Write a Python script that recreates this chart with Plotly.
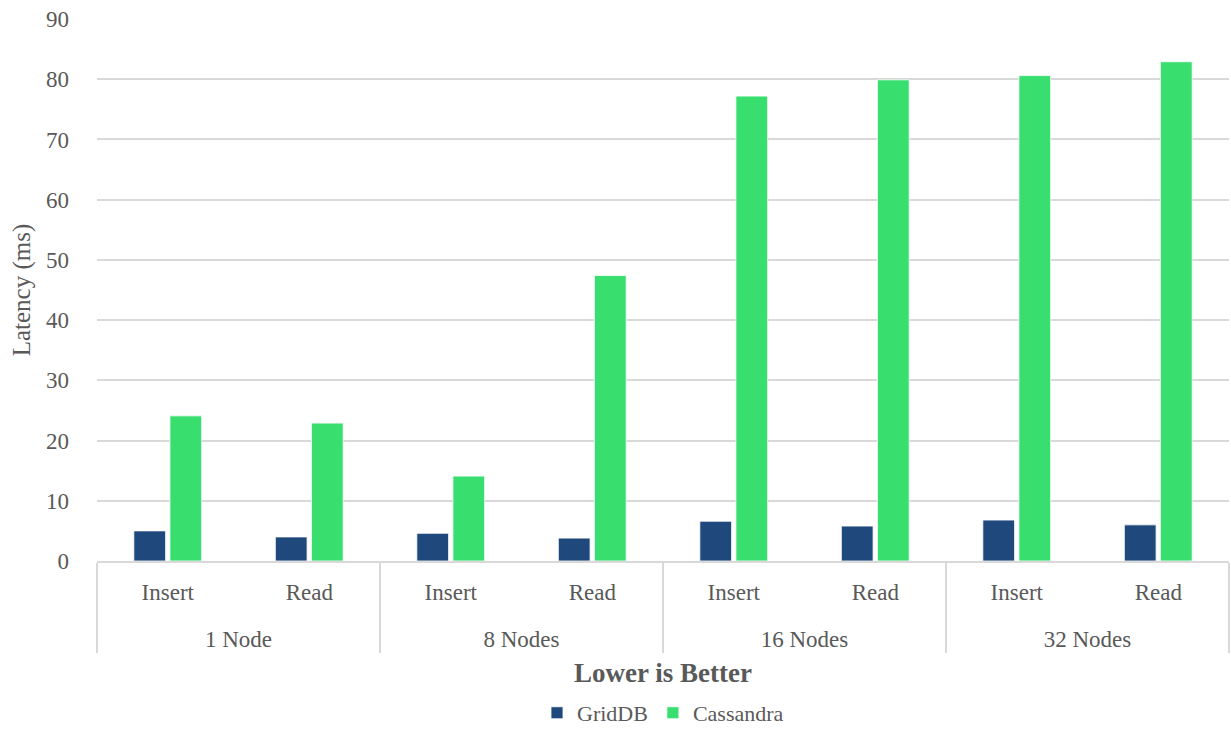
import plotly.graph_objects as go

# Cluster sizes and operations on the two-level category axis
# (the leading line break drops the cluster row below the operation row)
clusters = [" <br>1 Node", " <br>1 Node", " <br>8 Nodes", " <br>8 Nodes",
            " <br>16 Nodes", " <br>16 Nodes", " <br>32 Nodes", " <br>32 Nodes"]
operations = ["Insert", "Read", "Insert", "Read",
              "Insert", "Read", "Insert", "Read"]

# Average latency in milliseconds
griddb_ms = [5.0, 4.0, 4.6, 3.8, 6.6, 5.8, 6.8, 6.0]
cassandra_ms = [24.1, 22.9, 14.1, 47.4, 77.2, 79.9, 80.6, 82.9]

FONT = "Liberation Serif"
TEXT = "#595959"
GRID = "#d9d9d9"

fig = go.Figure()
fig.add_trace(go.Bar(
    name="GridDB", x=[clusters, operations], y=griddb_ms,
    marker=dict(color="#1f497d", line=dict(color="#ffffff", width=0.8)),
))
fig.add_trace(go.Bar(
    name="Cassandra", x=[clusters, operations], y=cassandra_ms,
    marker=dict(color="#38de6e", line=dict(color="#ffffff", width=0.8)),
))

fig.update_layout(
    width=1231, height=729,
    margin=dict(l=97, r=2, t=19, b=168),
    plot_bgcolor="white", paper_bgcolor="white",
    font=dict(family=FONT, color=TEXT, size=23),
    barmode="group", bargap=0.49, bargroupgap=0.12,
    showlegend=True,
    legend=dict(orientation="h", x=0.5, xanchor="center",
                yref="container", y=0.022, yanchor="middle",
                font=dict(family=FONT, size=22, color=TEXT)),
    xaxis=dict(
        type="multicategory",
        showline=True, linecolor=GRID, linewidth=1.5,
        showgrid=False, ticks="",
        showdividers=True, dividercolor=GRID, dividerwidth=1.5,
        ticklabelstandoff=10,
        tickfont=dict(family=FONT, size=23, color=TEXT),
        title=dict(text="<b>Lower is Better</b>",
                   font=dict(family=FONT, size=27, color=TEXT),
                   standoff=12),
        automargin=False,
    ),
    yaxis=dict(
        range=[0, 90], dtick=10,
        showgrid=True, gridcolor=GRID, gridwidth=1.5,
        zeroline=False, showline=False, ticks="",
        ticklabelstandoff=27,
        tickfont=dict(family=FONT, size=23, color=TEXT),
        title=dict(text="Latency (ms)",
                   font=dict(family=FONT, size=25, color=TEXT),
                   standoff=8),
        automargin=False,
    ),
)

fig.write_html("out.html")
